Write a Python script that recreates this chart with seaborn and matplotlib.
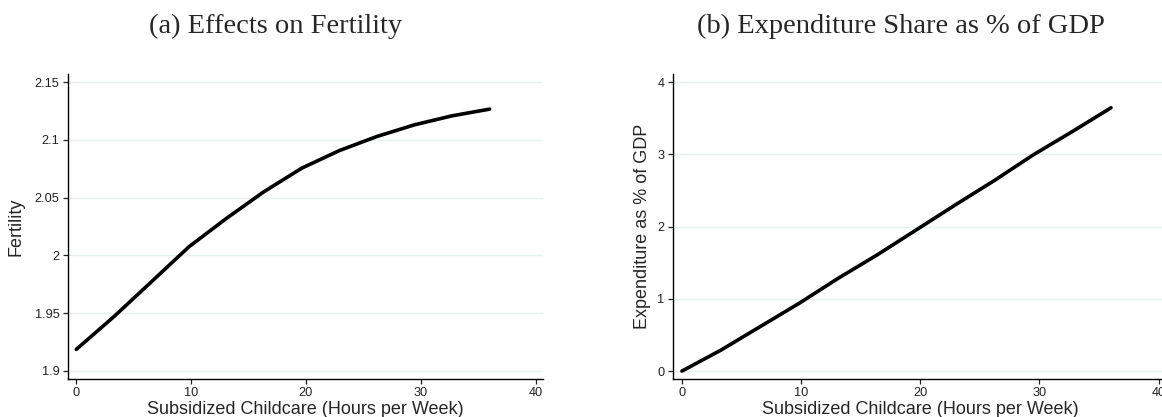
import numpy as np
import pandas as pd
import matplotlib
matplotlib.use("Agg")
import matplotlib.pyplot as plt
import seaborn as sns

# ── Data ──────────────────────────────────────────────────────────────────────
hours = [0, 3.27, 6.55, 9.82, 13.09, 16.36, 19.64, 22.91, 26.18, 29.45, 32.73, 36.0]
fertility = [1.9186, 1.9469, 1.9772, 2.0075, 2.0321, 2.0552,
             2.0755, 2.0907, 2.1029, 2.1130, 2.1208, 2.1266]
expenditure = [0.00, 0.29, 0.614, 0.937, 1.283, 1.607,
               1.953, 2.299, 2.636, 2.992, 3.315, 3.647]

fert_ticks = [1.9, 1.95, 2.0, 2.05, 2.1, 2.15]
fert_labels = ["1.9", "1.95", "2", "2.05", "2.1", "2.15"]
exp_ticks = [0, 1, 2, 3, 4]
x_ticks = [0, 10, 20, 30, 40]

df = pd.DataFrame({"hours": hours, "fertility": fertility, "expenditure": expenditure})

# ── Style ─────────────────────────────────────────────────────────────────────
sns.set_style("ticks")
plt.rcParams["font.family"] = ["Liberation Sans", "DejaVu Sans"]

W, H = 1162, 417
fig = plt.figure(figsize=(W / 100, H / 100), dpi=100)

def px_axes(left, right, top, bottom):
    return fig.add_axes([left / W, 1 - bottom / H, (right - left) / W, (bottom - top) / H])

ax1 = px_axes(68, 543, 74, 379)
ax2 = px_axes(673, 1167, 74, 379)   # runs past the right edge, as in the original

GRID = "#e8f0f1"
AX_H = 305

def style(ax, width, ylab_right_px):
    for s in ["top", "right"]:
        ax.spines[s].set_visible(False)
    for s in ["left", "bottom"]:
        ax.spines[s].set_linewidth(1.0)
        ax.spines[s].set_color("black")
    ax.yaxis.grid(True, color=GRID, linewidth=1.0)
    ax.xaxis.grid(False)
    ax.set_axisbelow(True)
    ax.tick_params(axis="both", direction="out", length=3.6, width=0.9,
                   labelsize=9.2, colors="#222222", pad=2.5)
    ax.set_xticks(x_ticks)
    ax.set_xlabel("Subsidized Childcare (Hours per Week)", fontsize=13, va="baseline")
    ax.xaxis.set_label_coords(0.5, -35 / AX_H)
    ax.yaxis.set_label_coords(ylab_right_px / width, 0.5)

# Panel (a)
sns.lineplot(data=df, x="hours", y="fertility", ax=ax1, color="black", linewidth=2.6)
ax1.set_ylabel("Fertility", fontsize=13)
style(ax1, 475, 25 - 68)
ax1.set_xlim(-0.72, 40.65)
ax1.set_ylim(1.893, 2.157)
ax1.set_yticks(fert_ticks)
ax1.set_yticklabels(fert_labels)

# Panel (b)
sns.lineplot(data=df, x="hours", y="expenditure", ax=ax2, color="black", linewidth=2.6)
ax2.set_ylabel("Expenditure as % of GDP", fontsize=13)
style(ax2, 494, 651 - 673)
ax2.set_xlim(-0.75, 40.7)
ax2.set_ylim(-0.11, 4.115)
ax2.set_yticks(exp_ticks)

# Titles (serif, as in the paper)
fig.text(276 / W, 1 - 33 / H, "(a) Effects on Fertility", ha="center", va="baseline",
         fontsize=20.5, family="Liberation Serif")
fig.text(901 / W, 1 - 33 / H, "(b) Expenditure Share as % of GDP", ha="center", va="baseline",
         fontsize=20.5, family="Liberation Serif")

fig.savefig("out.png", dpi=100)
